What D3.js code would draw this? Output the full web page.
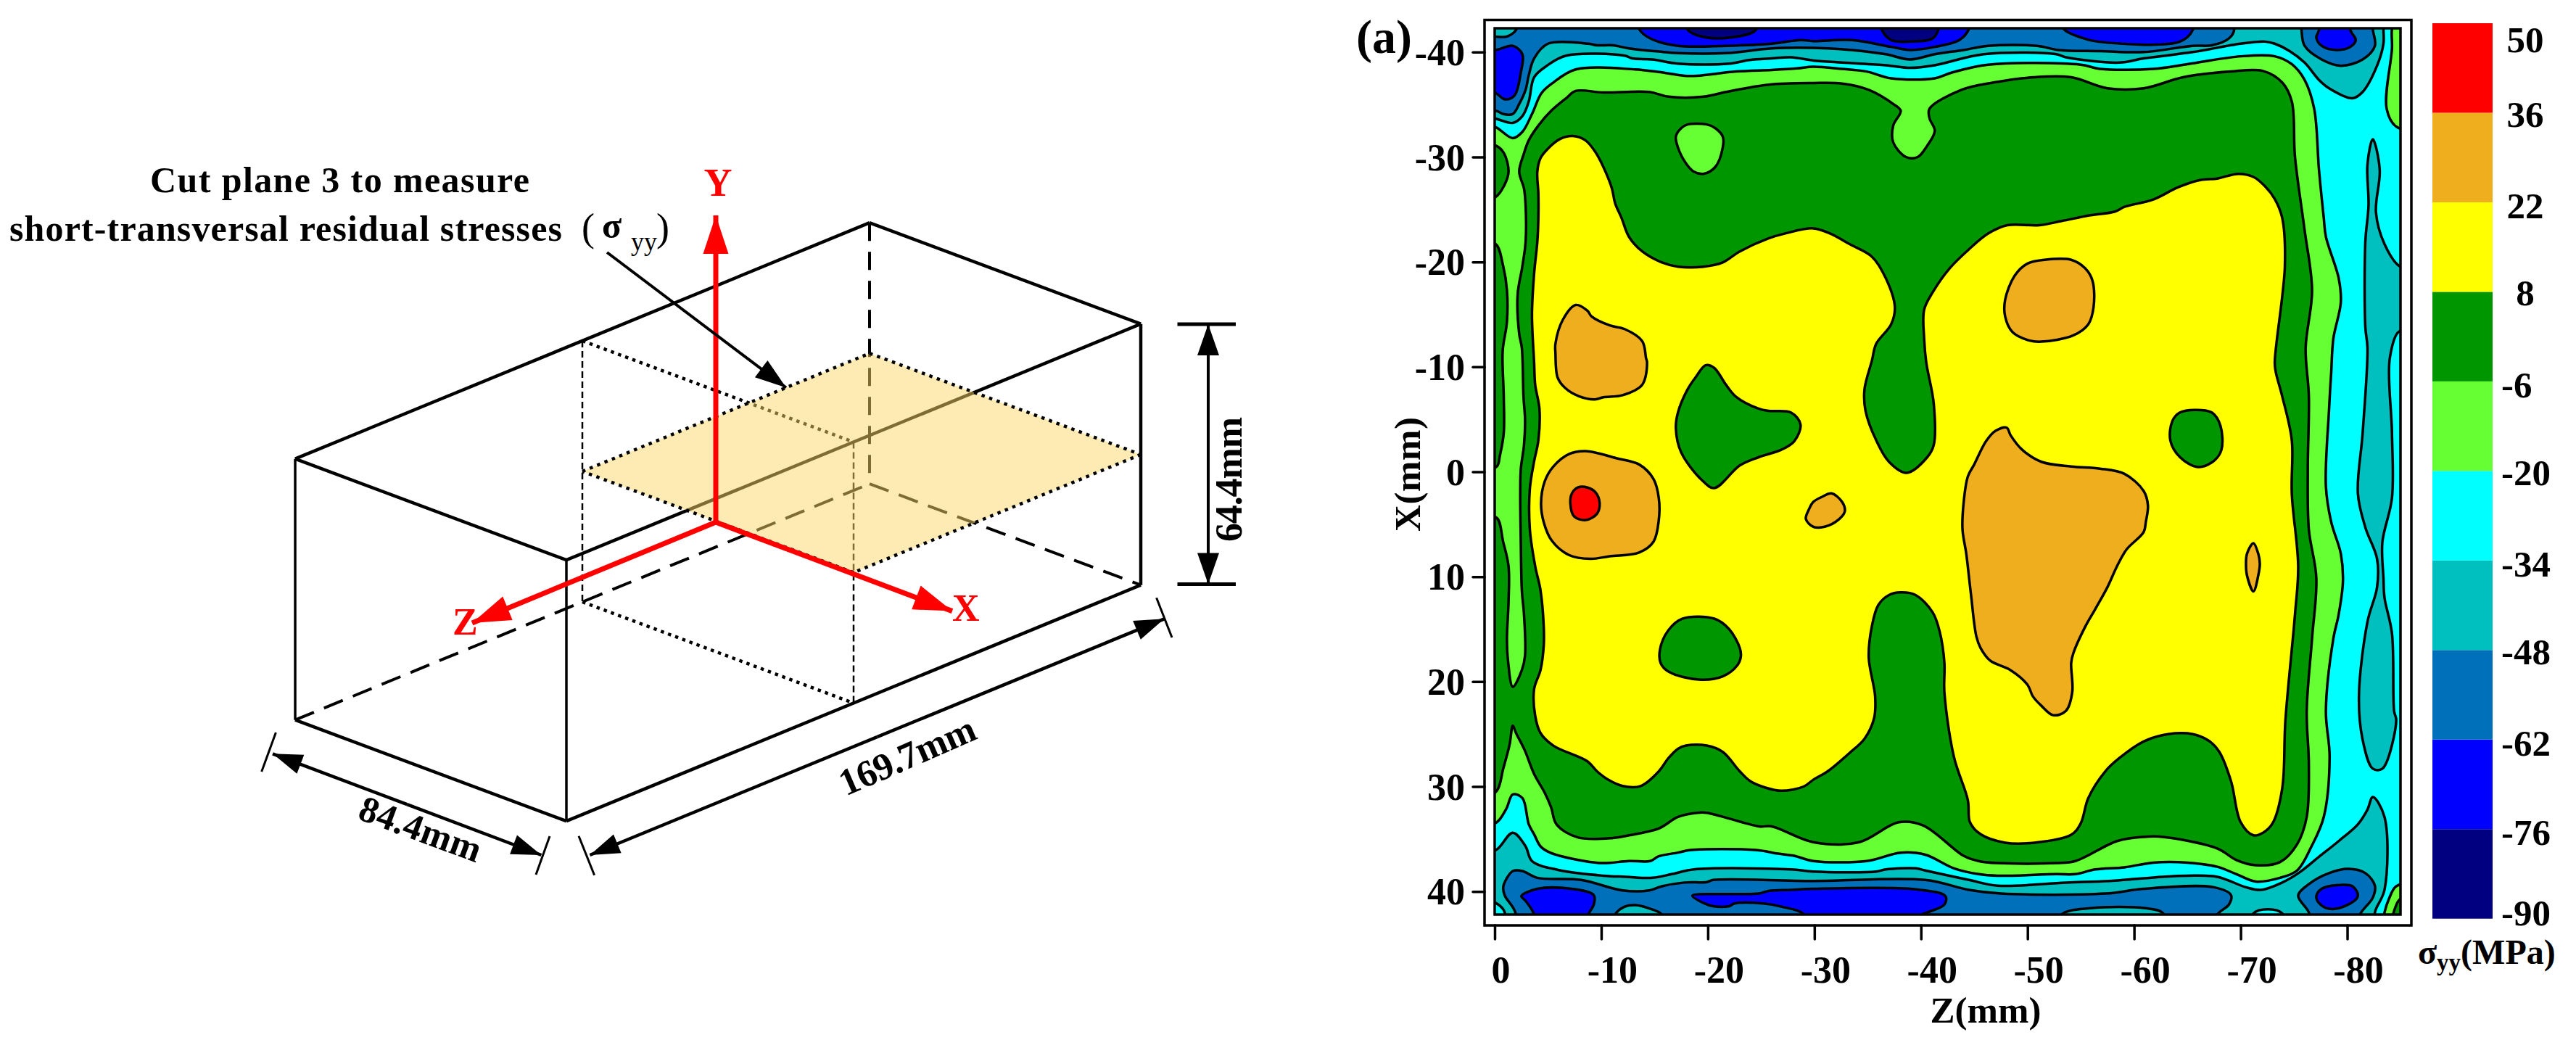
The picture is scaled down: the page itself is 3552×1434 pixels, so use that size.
<!DOCTYPE html>
<html>
<head>
<meta charset="utf-8">
<style>
  html, body { margin: 0; padding: 0; background: #fff; }
  text { font-family: "Liberation Serif", serif; font-weight: bold; }
</style>
<script src="https://cdn.jsdelivr.net/npm/d3@7"></script>
</head>
<body>
<script>
'use strict';

// colour legend
const levels = [-90, -76, -62, -48, -34, -20, -6, 8, 22, 36, 50];
const bandColors = ["#000080", "#0000ff", "#0070bb", "#00bfbf", "#00ffff", "#66ff33", "#009600", "#ffff00", "#eeae1e", "#ff0000"];
const legendLabelShift = [9, 22, 22, 20, 22, 20, 22, 19, 22, 20, 40];

// axis ticks
const zTicks = [0, -10, -20, -30, -40, -50, -60, -70, -80];
const xTicks = [-40, -30, -20, -10, 0, 10, 20, 30, 40];

// block size in mm
const blockAcross = 84.4;
const blockLength = 169.7;
const blockHeight = 64.4;

// contour outlines, each point is [Z mm, X mm]; points past the plot edge get clipped
const topBand = [[-1,-41.2],[1.2,-41.5],[2,-42.1],[2.2,-43.5],[68.9,-43.5],[69.4,-42.2],[68.9,-41.3],[67.3,-40.65],[65.5,-40.6],[60.9,-40],[56.8,-40.1],[52.9,-40.2],[50.9,-40.6],[46.3,-40.6],[44,-40.2],[41.3,-39.8],[39,-39.3],[36.7,-39.8],[33.5,-40.2],[29.9,-40.4],[26,-40.35],[21.7,-39.9],[17.2,-39.9],[15.4,-40.05],[12.6,-40.35],[11.1,-40.65],[9.6,-40.65],[8.8,-40.8],[5,-40.8],[3.7,-39.4],[3.2,-37.8],[2.9,-36.4],[2.3,-35.05],[1.7,-34.1],[.8,-34.1],[.1,-34.4],[-1,-34.2]];
const bottomBand = [[2,42.2],[1.7,41.5],[.95,40.4],[.8,39.6],[1.1,38.8],[1.7,38.05],[2.6,38.05],[4,38.7],[8.1,38.9],[12,39.9],[14.5,39.9],[15.7,39.5],[17.8,39.15],[19.9,39.1],[20.5,38.9],[29.9,39],[40.4,38.9],[44.5,39.85],[47.5,40.2],[57.3,40.2],[60.9,39.75],[67.5,39.6],[69.1,40.35],[68.9,41.25],[67.8,42.2],[67.4,43.5],[1.9,43.5]];
const topRightMid = [[75.7,-42.2],[76,-40.6],[77.6,-39.3],[79.4,-38.7],[81.45,-39.3],[82.6,-40.6],[82.4,-42.2],[82.4,-43.5],[75.6,-43.5]];
const bottomRightMid = [[76.4,42],[75.4,40.4],[76.4,39.3],[78.3,38.25],[80.1,37.85],[81.7,38.25],[82.6,39.45],[82.4,40.6],[81.2,42.2],[81,43.5],[76.6,43.5]];

const bottomTeal1 = [[11.3,42.2],[12.2,41.45],[13.2,41.3],[14.45,41.6],[15.7,42.2],[16,43.5],[11,43.5]];
const bottomTeal2 = [[53.2,42.2],[55.9,41.6],[61.1,41.6],[62.7,42.05],[63,43.5],[53,43.5]];

const topLeftBlue = [[-1,-40.3],[.1,-40.2],[1.7,-40.6],[2.6,-39.8],[2.45,-38.04],[1.85,-35.85],[.95,-35.5],[.1,-36.1],[-1,-36.4]];
const topBlue1 = [[13.55,-42.2],[14.6,-41.3],[17.2,-40.6],[21.7,-40.6],[26,-40.8],[28.7,-41.15],[29.9,-41.05],[33.5,-41.15],[37.2,-40.5],[39,-40.2],[41.3,-40.5],[43.6,-41.15],[44.5,-42.2],[44.6,-43.5],[13.4,-43.5]];
const topBlue2 = [[53.4,-42.2],[55,-41.4],[56.6,-41],[64.3,-41],[65.5,-42.1],[65.6,-43.5],[53.2,-43.5]];
const topRightBlue = [[77.35,-42.1],[77.1,-41.4],[77.6,-40.6],[79,-40.2],[80.3,-40.5],[80.8,-41.15],[80.3,-42.1],[80.3,-43.5],[77.35,-43.5]];
const bottomBlue1 = [[2.5,40.45],[4,39.75],[7.2,39.75],[9.3,40.35],[9.3,41.25],[8.8,42.2],[8.7,43.5],[3.7,43.5],[3.7,42.2],[2.9,40.9]];
const bottomBlue2 = [[18.55,40.4],[21.7,40.25],[24.8,40.2],[25.7,39.95],[27.8,39.85],[29.9,39.75],[39.5,39.8],[42.3,40.45],[42.2,41.25],[40.6,42],[40.15,42.2],[40,43.5],[28.8,43.5],[29,42.2],[26.9,41.45],[25.2,41.15],[22.5,41.15],[22,41.4],[20.5,41.4],[19.6,41.1]];
const bottomRightBlue = [[77.1,40.45],[77.6,39.75],[79,39.4],[80.5,39.5],[81,40.45],[79.9,41.35],[78.3,41.65],[77.35,41.1]];

const topNavy1 = [[18.1,-42.15],[19.8,-41.4],[22.2,-41.4],[24.5,-42.1],[24.6,-43.5],[18,-43.5]];
const topNavy2 = [[36.3,-42.2],[37.2,-41.15],[39,-41],[41.1,-41.3],[41.65,-42.2],[41.7,-43.5],[36.2,-43.5]];

const cyanMain = [[-1,-33.8],[.1,-33.65],[1.7,-33.25],[2.6,-33.9],[3.2,-35.3],[3.7,-37.6],[4.9,-38.7],[6.7,-39.66],[12.2,-39.66],[12.9,-39.4],[14.8,-39.3],[17.2,-38.9],[22,-38.9],[23.9,-39.25],[26,-39.4],[27.8,-39.5],[29.9,-39.2],[32.6,-39],[36.7,-38.75],[39,-38.5],[41.3,-38.75],[45.9,-39.8],[52.7,-39.8],[53.6,-39.5],[58.6,-39],[60.9,-39.4],[65.5,-40],[70,-40.8],[72.3,-41],[73.2,-40.8],[74.6,-40.1],[76,-39],[77.35,-37.35],[78.3,-36.55],[80.5,-35.6],[81.45,-36.2],[82.8,-38.7],[83.4,-40.8],[83.4,-42.2],[83.4,-43.5],[87,-43.5],[87,43.5],[82.7,43.5],[82.6,42],[83.5,39.85],[83.5,32.9],[82.4,31],[81.9,32.2],[81,33.6],[79.2,35.2],[77.35,36.7],[75.5,38.2],[73.9,39.15],[71.9,39.85],[70.5,39.6],[67.8,38.6],[65,38.5],[62.7,38.6],[57.7,39],[53.6,39.15],[47.2,39.45],[44.5,38.9],[40.4,38],[39.5,37.8],[36.7,37.9],[35.8,38.1],[29.9,38.1],[27.8,37.9],[18.7,37.9],[16.6,38.35],[14.8,38.7],[12.3,38.6],[10.2,38.5],[5.95,37.95],[3.5,37.1],[2.9,35.7],[1.7,34.4],[.2,36],[-1,36.3]];
const bottomLeftCyan = [[-1,40.9],[.1,41.1],[.8,41.7],[1,42.2],[1.1,43.5],[-1,43.5]];
const bottomCyan = [[70.9,43.5],[71.2,42.1],[72.55,41.7],[73.9,42.1],[74.2,43.5]];

const rightTeal = [[82.4,-31.7],[83.05,-28.8],[82.7,-24.7],[83.5,-21.7],[84.9,-19.6],[86,-19.4],[86,-13.2],[84.9,-13.4],[84,-10.85],[84.2,-3.7],[84.2,2.5],[83.3,6.7],[83.4,10.1],[83.5,12],[84.2,15.4],[84.4,22.8],[84.6,23.7],[83.3,28.3],[82.4,28.3],[81.45,25.55],[81.1,21.4],[81.9,14.3],[82.8,11],[82.8,8.3],[81.7,5.3],[81,2.06],[81.45,-3.7],[81.9,-11.8],[81.7,-13.8],[81.7,-21.9],[82,-25.4],[81.9,-29.3]];

const lightMain = [[-1,-33.1],[.1,-32.85],[1.7,-31.8],[2.6,-32.4],[3.5,-34.1],[4.4,-36.1],[5.5,-37.1],[7.6,-38.35],[13.2,-38.35],[15.4,-38.1],[17.8,-37.75],[19,-37.75],[22.65,-38.15],[26,-38.3],[28.4,-38.45],[29.9,-38.6],[32.6,-38.4],[34.9,-38.15],[37.2,-37.5],[41.3,-37.5],[42.9,-38.05],[46.3,-38.8],[55,-38.8],[56.8,-38.4],[61.8,-38.4],[65,-38.85],[70,-39.6],[73.2,-39.6],[74.8,-38.85],[76,-37.35],[76.9,-34.6],[77.35,-28.8],[77.8,-24.2],[78,-22.4],[79.2,-18.45],[79.4,-16.15],[78.7,-12.7],[78.5,-9.5],[78.3,-6],[78,1.4],[78.5,4.8],[79.4,7.8],[79.6,10.4],[79.2,13.6],[78.7,15.9],[78,22.8],[78.35,27.2],[77.8,32.9],[76.65,35.7],[75.3,38],[73.7,38.7],[71.4,39.05],[69.6,38.35],[67.8,37.65],[65,37.25],[61.8,37.25],[59.1,37.7],[56.35,37.9],[54.5,38.35],[52.7,38.35],[47.2,38.5],[45.4,38.35],[43.1,37.8],[40.4,36.5],[38.1,36.3],[34.9,37.1],[29.9,37.1],[28.1,36.6],[26.6,36.4],[24.5,36.05],[18.4,36.05],[17.2,36.3],[15.4,36.65],[14.6,37.1],[12.6,37.1],[10.2,37.3],[8.4,37.1],[5.2,36.3],[4.3,35.7],[3.7,34.55],[3.2,33.6],[2.6,31.1],[1.7,30.75],[1.1,32.1],[.2,33.4],[-1,33.7]];
const lightTopRight = [[84.6,-43.5],[84.2,-42.2],[84.2,-40.35],[83.7,-34.6],[84.6,-32.9],[86,-32.7],[86,-43.5]];
const lightBottomRight = [[84.6,39.5],[83.9,40.75],[83.5,42],[83.3,43.5],[86,43.5],[86,39.3]];
const lightPocket = [[18.1,-33.1],[19.9,-33.1],[20.7,-32.75],[21.4,-31.95],[21.4,-30.9],[20.7,-29.05],[19.6,-28.4],[18.7,-28.6],[17.95,-29.4],[17.2,-30.9],[17,-31.95],[17.5,-32.75]];

const greenMain = [[7.6,-36.3],[10.2,-36.15],[14.5,-36.2],[16.3,-35.75],[19.6,-35.75],[21.7,-36.2],[25.7,-36.9],[29.9,-37.05],[32.6,-37],[35.1,-36.4],[37.4,-35.05],[38.1,-34.4],[37.4,-33],[37.4,-31.4],[38.6,-30],[39.7,-30],[40.6,-31.1],[41.3,-32.5],[40.8,-33.7],[40.8,-34.6],[43.8,-36.4],[46.8,-37.1],[50.6,-37.6],[54.1,-37.6],[57.5,-36.55],[60.9,-36.55],[64.6,-37.6],[69.1,-38.15],[72.1,-38.2],[73.9,-37.1],[74.8,-35.3],[75.1,-30],[76,-23.05],[76.7,-17.3],[76.1,-11.8],[76.4,-7.2],[76.3,-.25],[76.4,5.5],[77.1,10.1],[76.7,15.9],[76.2,22.8],[76.4,27.9],[76.2,32.9],[75.3,35.5],[73.7,37.2],[71.4,37.5],[69.6,37],[67.8,35.9],[62.7,34.8],[60.9,34.8],[58.4,35.2],[54.5,37.1],[52.7,37.3],[47.2,37.3],[45.4,37.1],[44,36.6],[40.2,33.7],[37.9,33.4],[34.2,35.3],[29.9,35.3],[26,33.8],[24.8,33.8],[19.9,32.5],[19,32.5],[17.2,32.9],[15.4,34],[12.6,34.65],[11.1,34.9],[7.8,34.85],[5.8,33.6],[5.3,32],[4.7,30.6],[3.7,28.8],[2.8,26.5],[2,24.9],[1.7,24.2],[1.4,26],[.8,28.3],[.2,30.4],[-1,31],[-1,4.3],[.2,4.4],[.8,6.7],[1.3,9],[1.3,12.4],[1.15,15.9],[1.25,18],[1.7,20.5],[2.55,18.9],[2.85,17.5],[2.75,13.6],[2.55,11.3],[2.45,6.7],[2.4,2.1],[2.45,-.25],[2.75,-2.55],[2.85,-4.9],[2.7,-7.2],[2.55,-11.8],[2.3,-13.15],[2.15,-16.85],[2.6,-19.6],[2.9,-21.9],[2.9,-25.4],[2.75,-27],[2.3,-28.6],[2.7,-30.2],[3.2,-31.6],[4.1,-33],[5.3,-34.4],[6.7,-35.6]];
const greenLeft1 = [[-1,-31.3],[.1,-31.1],[.85,-30.4],[1.3,-28.6],[.85,-27.2],[.1,-26.2],[-1,-26]];
const greenLeft2 = [[-1,-21.7],[.1,-21.7],[.8,-19.6],[1.15,-17.3],[1.15,-14.3],[.75,-11.5],[.85,-7.2],[.85,-3.7],[.5,-1.6],[.2,-.5],[-1,-.3]];
const greenCorner = [[85,40.7],[84.3,42.2],[84.2,43.5],[86,43.5],[86,40.6]];

const yellowMain = [[7.3,-32],[6.1,-31.7],[5,-30.8],[4.3,-29.9],[4,-28.6],[4.1,-26.5],[4.1,-24.2],[4,-21.9],[3.7,-18.9],[3.5,-15],[3.7,-10.4],[3.8,-8.3],[4.2,-6],[4.1,-3],[3.7,-1],[3.3,1.6],[3.3,5.5],[3.8,9],[4.3,11.3],[4.6,14.7],[4.6,16.6],[4.3,18.9],[3.7,20.7],[3.8,23.25],[4.3,24.9],[5.5,26.1],[8.7,27.6],[9.6,28.55],[10.65,29.35],[12,29.95],[13.7,29.95],[15.4,28.55],[16.3,27.3],[17.2,26.4],[17.95,26.1],[19.9,26.1],[21.4,26.7],[23,28.55],[24,29.5],[25.4,30.1],[26.9,30.4],[29,30],[29.9,29.35],[31.25,28.55],[33.3,26.8],[34.7,25.45],[35.6,23.5],[35.7,21.4],[35.1,17.7],[35.4,14.7],[36,12.7],[37,11.75],[38.1,11.5],[39.5,11.75],[41.1,13.4],[41.75,15.2],[42.2,18.2],[42.2,21],[43.1,27.2],[44.4,31.3],[44.6,33.4],[45.6,34.55],[47.9,35.35],[50.65,35.35],[54.1,34.6],[55,33.5],[55.7,31.1],[57.3,28.55],[58.6,27.3],[60.9,25.7],[63.2,25],[65.5,25],[67.1,25.7],[68,26.7],[69.1,29.5],[70,33.4],[71.2,34.65],[72.1,34.4],[73,33.5],[73.9,30.2],[74.2,23.7],[75.1,13.6],[75.4,9],[74.8,2.06],[74.8,-3],[73.9,-7.2],[73.3,-9.5],[73.2,-10.4],[74.15,-19.6],[73.9,-24.2],[73.2,-26],[72.3,-27.2],[71.2,-28.1],[69.8,-28.4],[67.8,-27.95],[66.2,-27.8],[64.1,-27.1],[61.8,-25.95],[59.1,-25.25],[58.2,-24.8],[55.9,-24.45],[53.2,-23.9],[51.1,-23.5],[48.1,-23.5],[46.3,-22.7],[44.5,-21.2],[42.7,-19.4],[41.1,-17.1],[40.3,-15.45],[40.3,-12.7],[40.5,-10.4],[41.2,-6.5],[41.2,-2.55],[40.6,-1.4],[38.65,.1],[37,-.95],[35.8,-3],[34.8,-5.8],[34.7,-7.85],[35.4,-10.6],[35.8,-12.2],[37.2,-14.05],[37.55,-15.7],[36.7,-18.45],[35.4,-20.5],[33.3,-21.7],[31.5,-22.7],[29.9,-23.2],[27.2,-22.7],[25.7,-22.25],[23,-21],[21.4,-19.95],[19.6,-19.55],[17.2,-19.55],[15.7,-19.95],[13.85,-21],[12.6,-22.4],[11.9,-24.2],[11.3,-25.6],[11,-27],[10.2,-29.05],[9.4,-30.55],[8.5,-31.6]];

const greenPocket1 = [[19.8,-10.15],[20.6,-9.9],[21.7,-8.3],[22.65,-7.15],[24.8,-6],[25.7,-5.8],[27.8,-5.65],[28.7,-4.5],[28.1,-2.9],[26.9,-2.1],[24.8,-1.4],[23,-.6],[20.6,1.55],[19.45,.8],[17.5,-1.85],[17,-4.15],[17.2,-5.65],[18.1,-7.85],[18.85,-9]];
const greenPocket2 = [[17.6,14],[20.6,14],[22,15],[23,16.8],[23.1,17.6],[22.8,18.4],[21.4,19.5],[19.15,19.8],[16.4,19.1],[15.6,18.3],[15.5,17],[16.3,15.1]];
const greenPocket3 = [[65.7,-5.9],[67.3,-5.65],[68.1,-4.4],[68.2,-2.1],[67.5,-1.05],[66,-.45],[64.3,-1.4],[63.4,-3],[63.6,-4.85],[64.3,-5.65]];

const orange1 = [[7.6,-15.9],[8.7,-15.35],[9.1,-14.8],[10.8,-13.95],[12.2,-13.6],[13.85,-12.45],[14.2,-10.85],[14.3,-10.4],[13.85,-8.3],[12,-7.3],[10.2,-7.1],[9.4,-6.9],[7.9,-7.2],[6.6,-8],[5.9,-9],[5.7,-11.3],[5.7,-12.2],[6.4,-14.5]];
const orange2 = [[8.55,-1.97],[11.4,-1.3],[13.55,-.7],[14.9,.68],[15.4,2.5],[15.4,4.6],[14.9,6.67],[13.55,7.7],[10.8,8.05],[9,8.3],[7,7.95],[5.35,6.55],[4.6,4.8],[4.35,3],[4.7,.9],[5.5,-.5],[7,-1.7]];
const orange3 = [[31.6,2.06],[32.6,2.87],[32.85,3.8],[31.95,4.8],[30.6,5.3],[29.9,5.25],[29.2,4.5],[29.5,3.56],[29.9,2.87],[30.7,2.4]];
const orange4 = [[48.05,-4.2],[48.4,-3.5],[49.5,-2.1],[51.3,-.95],[54.1,-.5],[56.8,-.3],[59.1,.2],[60.9,1.83],[61.3,3.2],[61.1,4.8],[60.9,5.75],[59.3,7.4],[58.4,9],[57.5,11],[56.35,13.1],[55.45,14.7],[54.3,17.3],[54.1,18.2],[54.2,21],[53.6,22.8],[52.4,23.2],[51.3,22.3],[50.5,21.4],[50,20.3],[48.4,18.9],[46.5,18],[45.6,16.8],[45.2,15.7],[44.7,11.75],[44.25,7.8],[43.9,5.5],[44,3],[44.4,.45],[45,-.7],[46.1,-2.9],[47,-3.9]];
const orange5 = [[51.6,-20.2],[54.1,-20.2],[55.4,-19.4],[56.1,-18.2],[56.2,-15.7],[55.7,-14.05],[54.3,-13],[51.3,-12.4],[50.2,-12.5],[48.6,-13.3],[47.9,-14.8],[47.9,-16.4],[48.8,-18.7],[50,-19.85]];
const orange6 = [[71.2,6.8],[71.65,7.8],[71.8,8.75],[71.65,9.9],[71.2,11.4],[70.6,9.9],[70.5,8.75],[70.6,7.8]];
const redSpot = [[7.8,1.5],[8.7,1.5],[9.45,1.95],[9.85,3],[9.6,4],[8.55,4.6],[7.45,4.25],[7.1,3],[7.25,2.06]];

// painted in this order, band is the index into bandColors
const contourLayers = [
  [2, topBand], [2, bottomBand], [2, topRightMid], [2, bottomRightMid],
  [3, bottomTeal1], [3, bottomTeal2],
  [1, topLeftBlue], [1, topBlue1], [1, topBlue2], [1, topRightBlue],
  [1, bottomBlue1], [1, bottomBlue2], [1, bottomRightBlue],
  [0, topNavy1], [0, topNavy2],
  [4, cyanMain], [4, bottomLeftCyan], [4, bottomCyan],
  [3, rightTeal],
  [5, lightMain], [5, lightTopRight], [5, lightBottomRight],
  [6, greenMain], [6, greenLeft1], [6, greenLeft2], [6, greenCorner],
  [5, lightPocket],
  [7, yellowMain],
  [6, greenPocket1], [6, greenPocket2], [6, greenPocket3],
  [8, orange1], [8, orange2], [8, orange3], [8, orange4], [8, orange5], [8, orange6],
  [9, redSpot]
];

const svg = d3.select("body").append("svg")
  .attr("width", 3552)
  .attr("height", 1434)
  .style("display", "block");

drawContourPlot();
drawLegend();
drawBlock();

// right hand contour map
function drawContourPlot() {
  const zScale = d3.scaleLinear().domain([0, -85]).range([2061, 3310]);
  const xScale = d3.scaleLinear().domain([-42.27, 42.2]).range([39, 1261]);

  svg.append("clipPath").attr("id", "plot-clip")
    .append("rect")
    .attr("x", zScale(0)).attr("y", xScale(-42.27))
    .attr("width", zScale(-85) - zScale(0))
    .attr("height", xScale(42.2) - xScale(-42.27));

  const plot = svg.append("g").attr("clip-path", "url(#plot-clip)");

  plot.append("rect")
    .attr("x", zScale(0)).attr("y", xScale(-42.27))
    .attr("width", zScale(-85) - zScale(0))
    .attr("height", xScale(42.2) - xScale(-42.27))
    .attr("fill", bandColors[3]);

  // points hold Z as depth, the axis runs negative
  const outline = d3.line()
    .x(d => zScale(-d[0]))
    .y(d => xScale(d[1]))
    .curve(d3.curveCatmullRomClosed.alpha(0.5));

  plot.selectAll("path")
    .data(contourLayers)
    .enter().append("path")
    .attr("d", d => outline(d[1]))
    .attr("fill", d => bandColors[d[0]])
    .attr("stroke", "#000")
    .attr("stroke-width", 3.5)
    .attr("stroke-linejoin", "round");

  // inner and outer frames
  svg.append("rect")
    .attr("x", zScale(0)).attr("y", xScale(-42.27))
    .attr("width", zScale(-85) - zScale(0))
    .attr("height", xScale(42.2) - xScale(-42.27))
    .attr("fill", "none").attr("stroke", "#000").attr("stroke-width", 3.5);
  svg.append("rect")
    .attr("x", 2047).attr("y", 27.5)
    .attr("width", 1278).attr("height", 1248.5)
    .attr("fill", "none").attr("stroke", "#000").attr("stroke-width", 3.5);

  const zAxis = svg.append("g")
    .attr("transform", "translate(0,1276)")
    .call(d3.axisBottom(zScale).tickValues(zTicks).tickSize(19).tickPadding(23).tickFormat(d => d));
  const xAxis = svg.append("g")
    .attr("transform", "translate(2047,0)")
    .call(d3.axisLeft(xScale).tickValues(xTicks).tickSize(16).tickPadding(11).tickFormat(d => d));

  [zAxis, xAxis].forEach(axis => {
    axis.select(".domain").remove();
    axis.selectAll("line").attr("stroke", "#000").attr("stroke-width", 3.5).attr("stroke-linecap", "round");
    axis.selectAll("text")
      .style("font-family", '"Liberation Serif", serif')
      .style("font-weight", "bold")
      .style("font-size", "52px")
      .attr("fill", "#000");
  });
  zAxis.selectAll("text").attr("dx", d => d === 0 ? 8 : 15);
  xAxis.selectAll("text").attr("dy", "0.34em");

  svg.append("text").attr("x", 2738).attr("y", 1410)
    .attr("text-anchor", "middle").style("font-size", "51px").text("Z(mm)");
  svg.append("text")
    .attr("transform", "translate(1958,654)rotate(-90)")
    .attr("text-anchor", "middle").style("font-size", "51px")
    .attr("textLength", 158).text("X(mm)");
  svg.append("text").attr("x", 1870).attr("y", 73)
    .style("font-size", "66px").text("(a)");
}

// colour bar next to the map
function drawLegend() {
  const legendScale = d3.scaleLinear().domain([-90, 50]).range([1266.7, 32]);

  svg.selectAll(".legend-band")
    .data(bandColors)
    .enter().append("rect")
    .attr("class", "legend-band")
    .attr("x", 3354)
    .attr("width", 83)
    .attr("y", (d, i) => legendScale(levels[i + 1]))
    .attr("height", (d, i) => legendScale(levels[i]) - legendScale(levels[i + 1]))
    .attr("fill", d => d);

  svg.selectAll(".legend-label")
    .data(levels)
    .enter().append("text")
    .attr("class", "legend-label")
    .attr("x", d => d < 0 ? 3449 : 3482)
    .attr("y", (d, i) => legendScale(d) + legendLabelShift[i])
    .attr("text-anchor", d => d < 0 ? "start" : "middle")
    .style("font-size", "51px")
    .text(d => d);

  const title = svg.append("text").attr("x", 3334).attr("y", 1329).style("font-size", "48px");
  title.append("tspan").text("σ");
  title.append("tspan").attr("dy", 9).style("font-size", "33px").text("yy");
  title.append("tspan").attr("dy", -9).text("(MPa)");
}

// left hand block sketch
function drawBlock() {
  const acrossX = d3.scaleLinear().domain([0, blockAcross]).range([0, 374]);
  const acrossY = d3.scaleLinear().domain([0, blockAcross]).range([0, 139.5]);
  const lengthX = d3.scaleLinear().domain([0, blockLength]).range([0, 792]);
  const lengthY = d3.scaleLinear().domain([0, blockLength]).range([0, -325.5]);
  const heightY = d3.scaleLinear().domain([0, blockHeight]).range([0, -360]);

  // a across, b along the length, h up
  const pt = (a, b, h) => [407 + acrossX(a) + lengthX(b), 992.7 + acrossY(a) + lengthY(b) + heightY(h)];

  const A = blockAcross, L = blockLength, H = blockHeight;
  const line = (group, p, q, width, dash) => group.append("line")
    .attr("x1", p[0]).attr("y1", p[1]).attr("x2", q[0]).attr("y2", q[1])
    .attr("stroke", "#000").attr("stroke-width", width)
    .attr("stroke-dasharray", dash || null);

  const g = svg.append("g");
  const dashed = "28,15";
  const section = "9,5";

  // hidden edges
  line(g, pt(0, L, H), pt(0, L, 0), 4, "25,15");
  line(g, pt(0, 0, 0), pt(0, L, 0), 4, dashed);
  line(g, pt(0, L, 0), pt(A, L, 0), 4, dashed);

  // solid edges
  line(g, pt(0, 0, H), pt(A, 0, H), 4.5);
  line(g, pt(A, 0, H), pt(A, L, H), 4.5);
  line(g, pt(A, L, H), pt(0, L, H), 4.5);
  line(g, pt(0, L, H), pt(0, 0, H), 4.5);
  line(g, pt(0, 0, H), pt(0, 0, 0), 3.5);
  line(g, pt(A, 0, H), pt(A, 0, 0), 3.5);
  line(g, pt(A, L, H), pt(A, L, 0), 4.5);
  line(g, pt(0, 0, 0), pt(A, 0, 0), 4.5);
  line(g, pt(A, 0, 0), pt(A, L, 0), 4.5);

  // thin section at half length
  const M = L / 2;
  line(g, pt(0, M, H), pt(0, M, 0), 2.5, section);
  line(g, pt(A, M, H), pt(A, M, 0), 2.5, section);
  line(g, pt(0, M, H), pt(A, M, H), 4.5, "4.5,6");
  line(g, pt(0, M, 0), pt(A, M, 0), 4.5, "4.5,6");

  // cut plane, see through so edges behind it go brown
  const plane = [pt(0, M, H / 2), pt(0, L, H / 2), pt(A, L, H / 2), pt(A, M, H / 2)];
  g.append("polygon")
    .attr("points", plane.join(" "))
    .attr("fill", "#fbd767")
    .attr("fill-opacity", 0.5);
  plane.forEach((p, i) => line(g, p, plane[(i + 1) % 4], 4.5, "4.5,6.5"));

  // red axes
  const origin = [987, 720];
  redArrow(origin, [987, 297]);
  redArrow(origin, [1313, 842.6]);
  redArrow(origin, [651, 859]);
  svg.append("text").attr("x", 990).attr("y", 270).attr("text-anchor", "middle")
    .attr("fill", "#ff0000").style("font-size", "54px").text("Y");
  svg.append("text").attr("x", 1313).attr("y", 856)
    .attr("fill", "#ff0000").style("font-size", "52px").text("X");
  svg.append("text").attr("x", 624).attr("y", 875)
    .attr("fill", "#ff0000").style("font-size", "52px").text("Z");

  // call out arrow
  blackArrow([837, 348], [1084, 534.5], 43, 14.5, 4);

  // dimensions
  line(g, [1623.5, 447], [1704, 447], 5);
  line(g, [1623.5, 805.5], [1704, 805.5], 5);
  blackArrow([1666, 626], [1666, 447], 43, 15, 4);
  blackArrow([1666, 626], [1666, 805.5], 43, 15, 4);

  line(g, [1594.6, 824.3], [1616, 879], 3);
  line(g, [798, 1152.7], [819.6, 1206.7], 3);
  const longMid = [(813.4 + 1605.4) / 2, (1179 + 853.3) / 2];
  blackArrow(longMid, [813.4, 1179], 41, 14, 4.5);
  blackArrow(longMid, [1605.4, 853.3], 41, 14, 4.5);

  line(g, [380.4, 1010], [360.7, 1064], 3);
  line(g, [758, 1153], [739, 1206], 3);
  const shortMid = [(376 + 746.4) / 2, (1039.3 + 1179) / 2];
  blackArrow(shortMid, [376, 1039.3], 41, 14, 4.5);
  blackArrow(shortMid, [746.4, 1179], 41, 14, 4.5);

  svg.append("text").attr("transform", "translate(1712,661)rotate(-90)")
    .attr("text-anchor", "middle").style("font-size", "52px")
    .attr("textLength", 172).text("64.4mm");
  svg.append("text").attr("transform", "translate(1258,1058)rotate(-23.6)")
    .attr("text-anchor", "middle").style("font-size", "52px")
    .attr("textLength", 200).text("169.7mm");
  svg.append("text").attr("transform", "translate(574,1159)rotate(20.3)")
    .attr("text-anchor", "middle").style("font-size", "51px")
    .attr("textLength", 176).text("84.4mm");

  // cut plane note
  svg.append("text").attr("x", 207).attr("y", 265).style("font-size", "50px")
    .attr("textLength", 523).text("Cut plane 3 to measure");
  svg.append("text").attr("x", 13).attr("y", 332).style("font-size", "50px")
    .attr("textLength", 762).text("short-transversal residual stresses");
  svg.append("text").attr("x", 802).attr("y", 332).style("font-size", "54px").style("font-weight", "normal").text("(");
  svg.append("text").attr("x", 830).attr("y", 328).style("font-size", "50px").text("σ");
  svg.append("text").attr("x", 870).attr("y", 345).style("font-size", "36px").style("font-weight", "normal").text("yy");
  svg.append("text").attr("x", 905).attr("y", 332).style("font-size", "54px").style("font-weight", "normal").text(")");
}

function arrowHead(from, tip, len, half) {
  const dx = tip[0] - from[0], dy = tip[1] - from[1];
  const d = Math.hypot(dx, dy), ux = dx / d, uy = dy / d;
  const bx = tip[0] - ux * len, by = tip[1] - uy * len;
  return [tip, [bx - uy * half, by + ux * half], [bx + uy * half, by - ux * half]];
}

function redArrow(from, tip) {
  svg.append("line")
    .attr("x1", from[0]).attr("y1", from[1]).attr("x2", tip[0]).attr("y2", tip[1])
    .attr("stroke", "#ff0000").attr("stroke-width", 7);
  svg.append("polygon").attr("points", arrowHead(from, tip, 53, 17.5).join(" ")).attr("fill", "#ff0000");
}

function blackArrow(from, tip, len, half, width) {
  svg.append("line")
    .attr("x1", from[0]).attr("y1", from[1]).attr("x2", tip[0]).attr("y2", tip[1])
    .attr("stroke", "#000").attr("stroke-width", width);
  svg.append("polygon").attr("points", arrowHead(from, tip, len, half).join(" ")).attr("fill", "#000");
}
</script>
</body>
</html>
